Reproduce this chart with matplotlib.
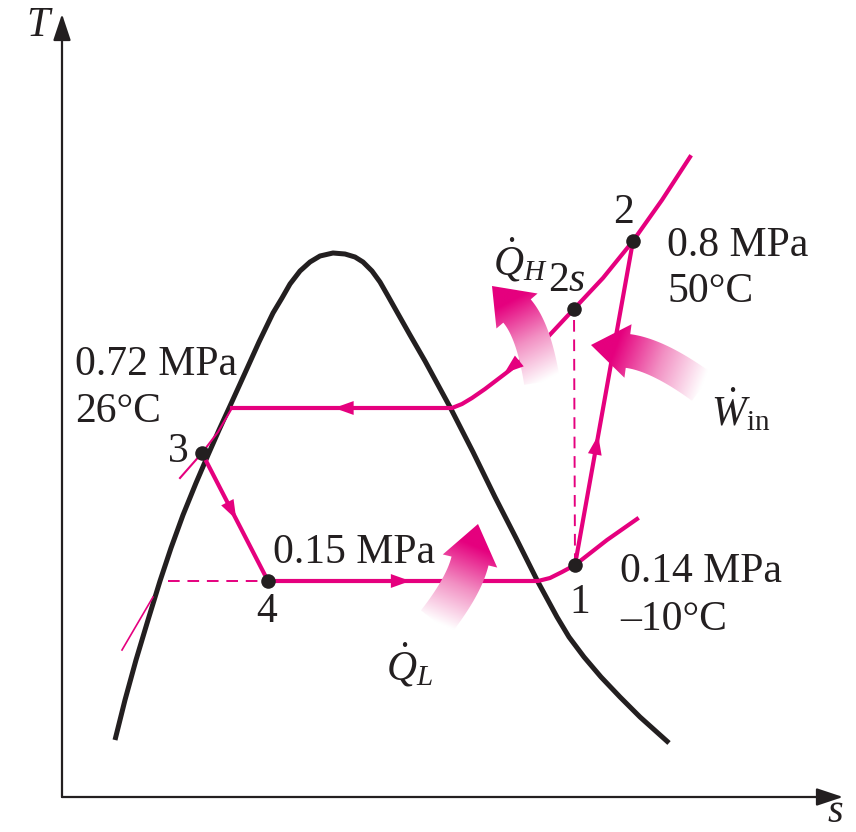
import numpy as np
import matplotlib.pyplot as plt
from matplotlib.patches import Polygon
from matplotlib.colors import LinearSegmentedColormap

plt.rcParams['font.family'] = ['Liberation Serif', 'DejaVu Serif']
plt.rcParams['mathtext.fontset'] = 'custom'
plt.rcParams['mathtext.rm'] = 'Liberation Serif'
plt.rcParams['mathtext.it'] = 'Liberation Serif:italic'

MAG = '#E5007E'
INK = '#231F20'

# saturation dome (s, T) in drawing units
dome_s = [53, 63, 74, 86, 98, 109, 121, 134, 146, 157, 168, 183, 197, 211, 220, 228,
          238, 248, 258, 271, 283, 293, 301, 310, 318, 326, 335, 348, 363, 388, 411,
          433, 454, 476, 495, 507, 522, 539, 558, 578, 607]
dome_T = [57, 97, 137, 177, 216, 249, 282, 314, 342, 367, 391, 424, 455, 484, 499, 513,
          526, 535, 541, 544, 543, 540, 535, 526, 515, 501, 485, 462, 436, 390, 345,
          300, 259, 215, 180, 160, 140, 120, 100, 80, 54]

# state points of the cycle
state_names = ['1', '2', '2s', '3', '4']
state_s = [513, 571, 512, 140, 206]
state_T = [232, 556, 488, 344, 216]

# high pressure line (0.72 / 0.8 MPa)
hp_s = [170, 390, 400, 410, 423, 448, 483, 511, 541, 571, 600, 628]
hp_T = [389, 389, 393, 399, 408, 427, 457, 487, 519, 556, 597, 640]

# low pressure line (0.15 / 0.14 MPa)
lp_s = [206, 476, 488, 500, 513, 545, 575]
lp_T = [216, 216, 219, 225, 232, 257, 278]

# compressed liquid bits
liq_hi_s = [118, 140, 156, 170]
liq_hi_T = [319, 344, 365, 389]
liq_lo_s = [60, 91]
liq_lo_T = [147, 200]

fig = plt.figure(figsize=(8.56, 8.32), dpi=100)
ax = fig.add_axes([0, 0, 1, 1])

# axes with arrows
ax.annotate('', xy=(0, 783), xytext=(0, 0),
            arrowprops=dict(arrowstyle='-|>,head_length=0.9,head_width=0.3', mutation_scale=18,
                            color=INK, lw=1.6, shrinkA=0, shrinkB=0))
ax.annotate('', xy=(781, 0), xytext=(0, 0),
            arrowprops=dict(arrowstyle='-|>,head_length=0.9,head_width=0.3', mutation_scale=18,
                            color=INK, lw=1.6, shrinkA=0, shrinkB=0))
ax.text(-24, 771, 'T', fontsize=30, style='italic', color=INK, ha='center', va='center')
ax.text(773, -15, 's', fontsize=29, style='italic', color=INK, ha='center', va='center')

# dome
ax.plot(dome_s, dome_T, color=INK, lw=3.6, solid_capstyle='butt', solid_joinstyle='round', zorder=2)

# cycle lines
kw = dict(color=MAG, lw=3.0, solid_joinstyle='round', zorder=3)
ax.plot(hp_s, hp_T, **kw)
ax.plot(lp_s, lp_T, **kw)
ax.plot([state_s[0], state_s[1]], [state_T[0], state_T[1]], **kw)
ax.plot([state_s[3], state_s[4]], [state_T[3], state_T[4]], **kw)
ax.plot(liq_hi_s, liq_hi_T, color=MAG, lw=1.5, zorder=3)
ax.plot(liq_lo_s, liq_lo_T, color=MAG, lw=1.2, zorder=3)

# dashed helper lines
ax.plot([state_s[0], state_s[2]], [state_T[0], state_T[2]], color=MAG, lw=1.4, ls=(0, (6, 4)), zorder=3)
ax.plot([106, state_s[4]], [state_T[4], state_T[4]], color=MAG, lw=1.4, ls=(0, (6, 4)), zorder=3)


def flow_arrow(p0, p1, frac):
    p0 = np.array(p0, float)
    p1 = np.array(p1, float)
    m = p0 + frac * (p1 - p0)
    d = (p1 - p0) / np.hypot(*(p1 - p0))
    ax.annotate('', xy=m + 10 * d, xytext=m - 10 * d,
                arrowprops=dict(arrowstyle='-|>,head_length=0.7,head_width=0.25', mutation_scale=20,
                                color=MAG, lw=0, shrinkA=0, shrinkB=0), zorder=5)


flow_arrow((lp_s[0], lp_T[0]), (lp_s[1], lp_T[1]), 0.49)
flow_arrow((hp_s[1], hp_T[1]), (hp_s[0], hp_T[0]), 0.49)
flow_arrow((state_s[3], state_T[3]), (state_s[4], state_T[4]), 0.45)
flow_arrow((state_s[0], state_T[0]), (state_s[1], state_T[1]), 0.37)
flow_arrow((hp_s[6], hp_T[6]), (hp_s[4], hp_T[4]), 0.55)

fade = LinearSegmentedColormap.from_list('fade', [(0, 'white'), (0.4, '#F290C3'), (0.8, MAG), (1, MAG)])


def big_arrow(tail, ctrl, base, tip, body_w, head_w):
    t = np.linspace(0, 1, 40)
    P0, P1, P2 = map(np.array, (tail, ctrl, base))
    B = ((1 - t) ** 2)[:, None] * P0 + (2 * (1 - t) * t)[:, None] * P1 + (t ** 2)[:, None] * P2
    dB = (2 * (1 - t))[:, None] * (P1 - P0) + (2 * t)[:, None] * (P2 - P1)
    n = np.column_stack([-dB[:, 1], dB[:, 0]])
    n /= np.hypot(n[:, 0], n[:, 1])[:, None]
    left = B + n * body_w / 2
    right = B - n * body_w / 2
    nb = n[-1]
    verts = np.vstack([left, [P2 + nb * head_w / 2], [tip], [P2 - nb * head_w / 2], right[::-1]])
    poly = Polygon(verts, closed=True, facecolor='none', edgecolor='none')
    ax.add_patch(poly)
    x0, y0 = verts.min(0)
    x1, y1 = verts.max(0)
    gx, gy = np.meshgrid(np.linspace(x0, x1, 200), np.linspace(y0, y1, 200))
    axis = np.array(tip, float) - P0
    v = ((gx - P0[0]) * axis[0] + (gy - P0[1]) * axis[1]) / (axis @ axis)
    im = ax.imshow(np.clip(v, 0, 1), extent=(x0, x1, y0, y1), origin='lower', cmap=fade,
                   vmin=0, vmax=1, interpolation='bilinear', zorder=4)
    im.set_clip_path(poly)


big_arrow((480, 415), (472, 466), (455, 486), (430, 511), 36, 54)   # Q_H
big_arrow((640, 410), (596, 442), (566, 446), (529, 452), 34, 54)   # W_in
big_arrow((374, 175), (402, 211), (408, 236), (416, 273), 38, 56)   # Q_L

# state dots
ax.scatter(state_s, state_T, s=110, color=INK, zorder=6, linewidths=0)

# labels
fs = 30
tk = dict(fontsize=fs, color=INK)
ax.text(562, 584, '2', ha='center', va='center', **tk)
ax.text(505, 516, '2$s$', ha='center', va='center', **tk)
ax.text(116, 345, '3', ha='center', va='center', **tk)
ax.text(205, 185, '4', ha='center', va='center', **tk)
ax.text(518, 194, '1', ha='center', va='center', **tk)
ax.text(605, 541, '0.8 MPa', ha='left', va='baseline', **tk)
ax.text(605, 495, '50°C', ha='left', va='baseline', **tk)
ax.text(13, 422, '0.72 MPa', ha='left', va='baseline', **tk)
ax.text(13, 375, '26°C', ha='left', va='baseline', **tk)
ax.text(211, 234, '0.15 MPa', ha='left', va='baseline', **tk)
ax.text(558, 215, '0.14 MPa', ha='left', va='baseline', **tk)
ax.text(558, 167, '–10°C', ha='left', va='baseline', **tk)
ax.text(458, 537, r'$\dot{Q}_H$', ha='center', va='center', **tk)
ax.text(348, 132, r'$\dot{Q}_L$', ha='center', va='center', **tk)
ax.text(679, 387, r'$\dot{W}_{\mathrm{in}}$', ha='center', va='center', **tk)

ax.set_aspect('auto')
ax.set_xlim(-62, 794)
ax.set_ylim(-35, 797)
ax.axis('off')
fig.savefig('out.png', dpi=100)
